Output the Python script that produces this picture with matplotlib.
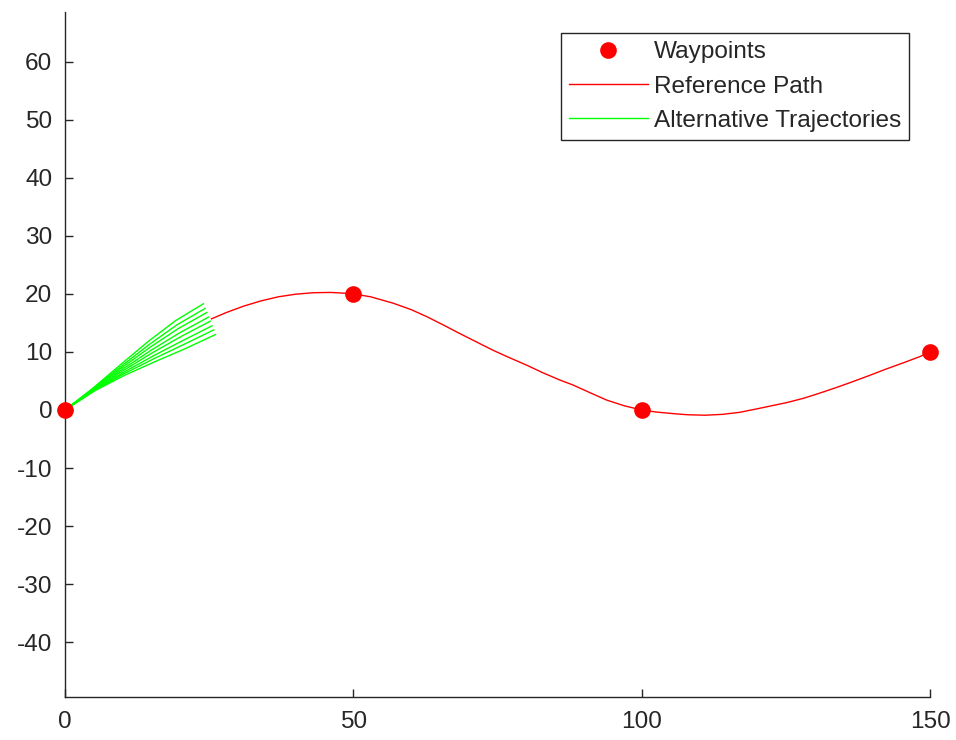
import matplotlib
matplotlib.use("Agg")
import matplotlib.pyplot as plt

plt.rcParams['font.family'] = ['Liberation Sans', 'DejaVu Sans']
plt.rcParams['axes.unicode_minus'] = False

# Waypoints
wp_x = [0, 50, 100, 150]
wp_y = [0, 20, 0, 10]

# Reference path
path_x = [25.4, 28.0, 31.0, 34.0, 37.0, 40.0, 43.0, 46.0, 48.0, 50.0, 53.0, 56.9,
          60.0, 62.7, 65.5, 68.4, 71.3, 74.2, 77.1, 80.0, 82.9, 85.8, 88.1, 91.0,
          93.9, 97.0, 100.0, 102.5, 105.4, 108.0, 111.0, 114.0, 117.0, 120.0,
          122.5, 125.1, 128.0, 130.8, 133.7, 136.6, 139.5, 142.4, 145.3, 148.2, 150.0]
path_y = [15.7, 16.8, 17.9, 18.8, 19.5, 19.95, 20.2, 20.25, 20.15, 20.0, 19.5, 18.4,
          17.3, 16.1, 14.7, 13.2, 11.75, 10.3, 9.0, 7.75, 6.4, 5.17, 4.3, 3.0,
          1.72, 0.72, 0.0, -0.35, -0.62, -0.82, -0.9, -0.75, -0.4, 0.2,
          0.72, 1.26, 2.0, 2.88, 3.85, 4.88, 5.95, 7.06, 8.1, 9.18, 10.0]

# Alternative trajectories
traj_x = [
    [0, 4.80, 9.60, 14.40, 19.20, 24.0],
    [0, 4.86, 9.72, 14.58, 19.44, 24.3],
    [0, 4.92, 9.84, 14.76, 19.68, 24.6],
    [0, 4.98, 9.96, 14.94, 19.92, 24.9],
    [0, 5.04, 10.08, 15.12, 20.16, 25.2],
    [0, 5.10, 10.20, 15.30, 20.40, 25.5],
    [0, 5.16, 10.32, 15.48, 20.64, 25.8],
    [0, 5.22, 10.44, 15.66, 20.88, 26.1],
]
traj_y = [
    [0, 3.73, 7.78, 11.79, 15.41, 18.3],
    [0, 3.67, 7.51, 11.27, 14.69, 17.5],
    [0, 3.62, 7.28, 10.82, 14.05, 16.8],
    [0, 3.56, 7.02, 10.30, 13.32, 16.0],
    [0, 3.51, 6.79, 9.84, 12.68, 15.3],
    [0, 3.45, 6.52, 9.32, 11.95, 14.5],
    [0, 3.40, 6.29, 8.87, 11.31, 13.8],
    [0, 3.34, 6.03, 8.35, 10.58, 13.0],
]

x_ticks = [0, 50, 100, 150]
y_ticks = [-40, -30, -20, -10, 0, 10, 20, 30, 40, 50, 60]

axis_color = '#262626'
fs = 17.6

fig = plt.figure(figsize=(9.56, 7.40), dpi=100)
ax = fig.add_axes([65 / 956, 43 / 740, 865 / 956, 685 / 740])

for i, (xs, ys) in enumerate(zip(traj_x, traj_y)):
    ax.plot(xs, ys, color='#00ff00', lw=1.0,
            label='Alternative Trajectories' if i == 0 else None, zorder=2)

ax.plot(path_x, path_y, color='#ff0000', lw=1.0, label='Reference Path', zorder=3)
ax.plot(wp_x, wp_y, 'o', color='#ff0000', markersize=12, markeredgewidth=0,
        label='Waypoints', zorder=4, clip_on=False)

ax.set_xlim(0, 150)
ax.set_ylim(-49.44, 68.56)
ax.set_xticks(x_ticks)
ax.set_yticks(y_ticks)

for s in ['top', 'right']:
    ax.spines[s].set_visible(False)
for s in ['left', 'bottom']:
    ax.spines[s].set_color(axis_color)
    ax.spines[s].set_linewidth(1.0)

ax.tick_params(direction='in', length=6, width=1.0, colors=axis_color,
               labelsize=fs)
ax.tick_params(axis='x', pad=10)
ax.tick_params(axis='y', pad=9)

handles, labels = ax.get_legend_handles_labels()
order = ['Waypoints', 'Reference Path', 'Alternative Trajectories']
hmap = dict(zip(labels, handles))
leg = ax.legend([hmap[k] for k in order], order, loc='upper right',
                bbox_to_anchor=((909 - 65) / 865, (697 - 33) / 685),
                borderaxespad=0, fancybox=False, framealpha=1,
                edgecolor=axis_color, fontsize=fs, handlelength=3.2,
                handletextpad=0.25, labelspacing=0.5, borderpad=0.33)
leg.get_frame().set_linewidth(1.0)
for t in leg.get_texts():
    t.set_color(axis_color)

fig.savefig('out.png', dpi=100)
